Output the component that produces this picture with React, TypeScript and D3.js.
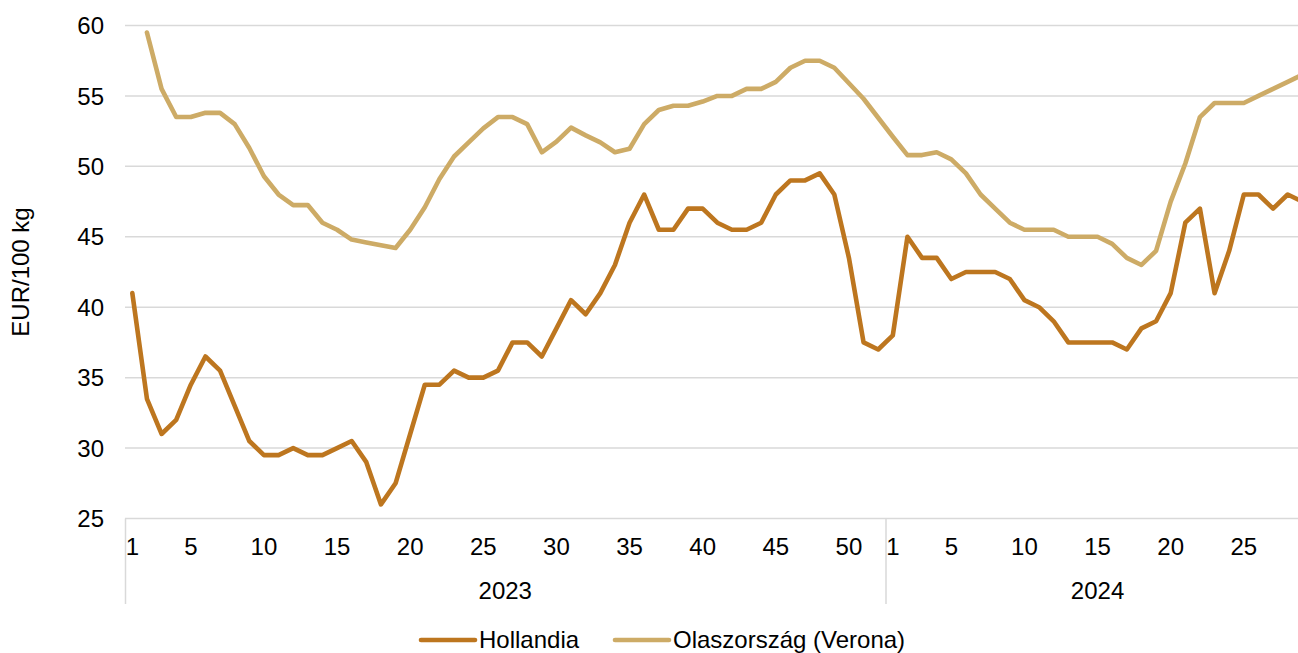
import React from "react";
import * as d3 from "d3";

const years = ["2023", "2024"];
const weeksPerYear = [52, 29];
const tickWeeks2023 = [1, 5, 10, 15, 20, 25, 30, 35, 40, 45, 50];
const tickWeeks2024 = [1, 5, 10, 15, 20, 25];
const yTicks = [25, 30, 35, 40, 45, 50, 55, 60];

const hollandia: (number | null)[] = [
  41, 33.5, 31, 32, 34.5, 36.5, 35.5, 33, 30.5, 29.5, 29.5, 30, 29.5, 29.5, 30, 30.5, 29, 26, 27.5, 31,
  34.5, 34.5, 35.5, 35, 35, 35.5, 37.5, 37.5, 36.5, 38.5, 40.5, 39.5, 41, 43, 46, 48, 45.5, 45.5, 47, 47,
  46, 45.5, 45.5, 46, 48, 49, 49, 49.5, 48, 43.5, 37.5, 37, 38,
  45, 43.5, 43.5, 42, 42.5, 42.5, 42.5, 42, 40.5, 40, 39, 37.5, 37.5, 37.5, 37.5, 37, 38.5, 39, 41, 46,
  47, 41, 44, 48, 48, 47, 48, 47.5,
];

const olasz: (number | null)[] = [
  null, 59.5, 55.5, 53.5, 53.5, 53.8, 53.8, 53, 51.3, 49.3, 48, 47.25, 47.25, 46, 45.5, 44.8, 44.6, 44.4, 44.2, 45.5,
  47.1, 49.1, 50.7, 51.7, 52.7, 53.5, 53.5, 53, 51, 51.75, 52.75, 52.2, 51.7, 51, 51.25, 53, 54, 54.3, 54.3, 54.6,
  55, 55, 55.5, 55.5, 56, 57, 57.5, 57.5, 57, 55.9, 54.8, 53.45, 52.1,
  50.8, 50.8, 51, 50.5, 49.5, 48, 47, 46, 45.5, 45.5, 45.5, 45, 45, 45, 44.5, 43.5, 43, 44, 47.5, 50.2,
  53.5, 54.5, 54.5, 54.5, 55, 55.5, 56, 56.5,
];

const seriesNames = ["Hollandia", "Olaszország (Verona)"];
const seriesColors = ["#BD761F", "#CDAB66"];

const W = 1298;
const H = 653;
const left = 125;
const bandW = 14.625;
const top = 25.5;
const bottom = 518.5;
const FONT = "'Liberation Sans', Arial, sans-serif";
const FS = 24;
const GRID = "#D9D9D9";
const LW = 4.6;

export default function App() {
  const categories: { year: string; week: number }[] = [];
  years.forEach((yr, i) => {
    d3.range(1, weeksPerYear[i] + 1).forEach((w) => categories.push({ year: yr, week: w }));
  });
  const n = categories.length;
  const x = d3
    .scaleBand<number>()
    .domain(d3.range(n))
    .range([left, left + n * bandW])
    .padding(0);
  const cx = (i: number) => (x(i) as number) + x.bandwidth() / 2;
  const y = d3.scaleLinear().domain([25, 60]).range([bottom, top]);

  const line = d3
    .line<number | null>()
    .defined((d) => d !== null)
    .x((_, i) => cx(i))
    .y((d) => y(d as number));

  const series = [hollandia, olasz];

  const yearStart: number[] = [];
  let acc = 0;
  weeksPerYear.forEach((c) => {
    yearStart.push(acc);
    acc += c;
  });
  const yearEdges = yearStart.map((s) => x(s) as number);
  const endEdge = left + n * bandW;

  const idxOf = (yr: string, w: number) => categories.findIndex((c) => c.year === yr && c.week === w);
  const xTicks = [
    ...tickWeeks2023.map((w) => ({ w, i: idxOf("2023", w) })),
    ...tickWeeks2024.map((w) => ({ w, i: idxOf("2024", w) })),
  ];

  return (
    <svg
      width={W}
      height={H}
      style={{ position: "absolute", left: 0, top: 0, background: "#fff" }}
      fontFamily={FONT}
    >
      {yTicks.map((t) => (
        <g key={t}>
          <line x1={left} x2={endEdge} y1={y(t)} y2={y(t)} stroke={GRID} strokeWidth={1.5} />
          <text x={104} y={y(t)} dy="0.36em" textAnchor="end" fontSize={FS} fill="#000">
            {t}
          </text>
        </g>
      ))}
      {yearEdges.map((e, i) => (
        <line key={i} x1={e + 0.5} x2={e + 0.5} y1={bottom} y2={604} stroke={GRID} strokeWidth={1.5} />
      ))}
      {xTicks.map((t) => (
        <text key={t.i} x={cx(t.i)} y={555} textAnchor="middle" fontSize={FS} fill="#000">
          {t.w}
        </text>
      ))}
      {years.map((yr, i) => {
        const a = yearEdges[i];
        const b = i + 1 < yearEdges.length ? yearEdges[i + 1] : endEdge;
        return (
          <text key={yr} x={(a + b) / 2} y={599} textAnchor="middle" fontSize={FS} fill="#000">
            {yr}
          </text>
        );
      })}
      <text
        transform={`translate(29, 272) rotate(-90)`}
        textAnchor="middle"
        fontSize={FS}
        fill="#000"
      >
        EUR/100 kg
      </text>
      {series.map((s, i) => (
        <path
          key={i}
          d={line(s) || ""}
          fill="none"
          stroke={seriesColors[i]}
          strokeWidth={LW}
          strokeLinejoin="round"
          strokeLinecap="round"
        />
      ))}
      {seriesNames.map((name, i) => {
        const lx = [421, 615][i];
        return (
          <g key={name}>
            <line x1={lx} x2={lx + 54} y1={640} y2={640} stroke={seriesColors[i]} strokeWidth={LW} strokeLinecap="round" />
            <text x={lx + 58} y={648} fontSize={FS} fill="#000">
              {name}
            </text>
          </g>
        );
      })}
    </svg>
  );
}
